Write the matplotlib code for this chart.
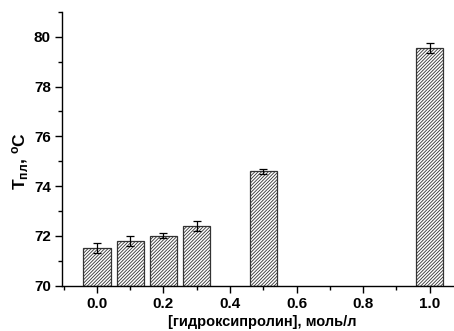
import numpy as np
import matplotlib
matplotlib.use("Agg")
import matplotlib.pyplot as plt
from matplotlib.ticker import MultipleLocator

# data
conc = [0.0, 0.1, 0.2, 0.3, 0.5, 1.0]
t_melt = [71.5, 71.8, 72.0, 72.4, 74.6, 79.55]
t_err = [0.2, 0.2, 0.1, 0.2, 0.1, 0.2]
xticks = [0.0, 0.2, 0.4, 0.6, 0.8, 1.0]
yticks = [70, 72, 74, 76, 78, 80]

plt.rcParams["font.family"] = ["Liberation Sans", "DejaVu Sans"]
plt.rcParams["font.weight"] = "bold"
plt.rcParams["mathtext.fontset"] = "custom"
plt.rcParams["mathtext.rm"] = "Liberation Sans:bold"
plt.rcParams["mathtext.bf"] = "Liberation Sans:bold"
plt.rcParams["mathtext.it"] = "Liberation Sans:bold"
plt.rcParams["hatch.linewidth"] = 0.6

fig = plt.figure(figsize=(4.54, 3.31), dpi=100)
ax = fig.add_axes([0.1366, 0.137, 0.861, 0.827])

ax.bar(conc, [t - 70 for t in t_melt], bottom=70, width=0.082,
       color="white", edgecolor="#333333", hatch="//////////", linewidth=0.9, zorder=2)
ax.errorbar(conc, t_melt, yerr=t_err, fmt="none", ecolor="black",
            elinewidth=0.9, capsize=3, capthick=0.9, zorder=3)

ax.set_xlim(-0.105, 1.07)
ax.set_ylim(70, 81)
ax.set_xticks(xticks)
ax.set_xticklabels([f"{v:.1f}" for v in xticks])
ax.set_yticks(yticks)
ax.xaxis.set_minor_locator(MultipleLocator(0.1))
ax.yaxis.set_minor_locator(MultipleLocator(1))
ax.tick_params(which="major", direction="out", length=5, width=1, labelsize=11, pad=3)
ax.tick_params(which="minor", direction="out", length=3, width=1)
for lab in ax.get_xticklabels() + ax.get_yticklabels():
    lab.set_fontweight("bold")

ax.spines["top"].set_visible(False)
ax.spines["right"].set_visible(False)
ax.spines["left"].set_linewidth(1)
ax.spines["bottom"].set_linewidth(1)

ax.set_xlabel("[гидроксипролин], моль/л", fontsize=10.5, fontweight="bold")
ax.xaxis.set_label_coords(0.511, -0.108)
ax.set_ylabel(r"T$_{пл}$, $^{o}$C", fontsize=12.5, fontweight="bold")
ax.yaxis.set_label_coords(-0.08, 0.456)

fig.savefig("out.png", dpi=100)
